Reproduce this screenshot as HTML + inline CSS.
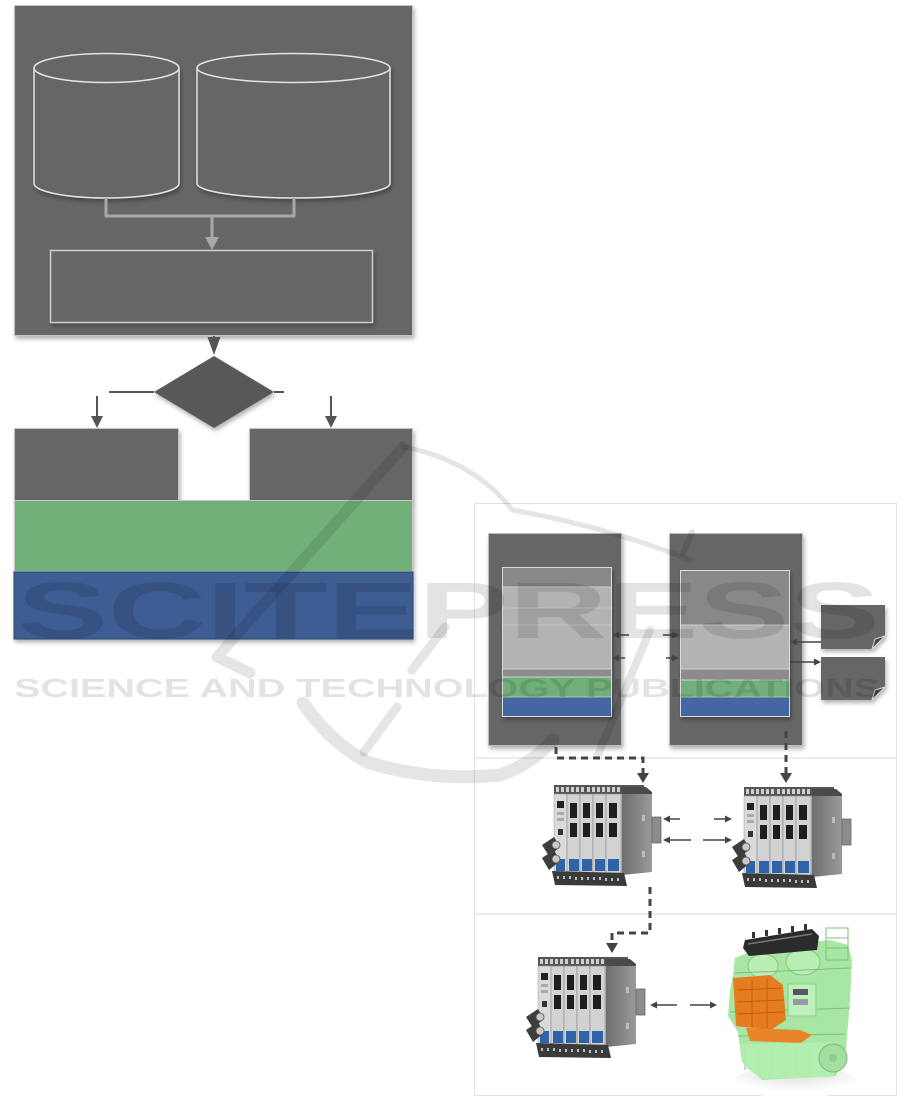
<!DOCTYPE html>
<html>
<head>
<meta charset="utf-8">
<style>
html,body{margin:0;padding:0;background:#fff;}
svg{display:block;}
</style>
</head>
<body>
<svg width="901" height="1097" viewBox="0 0 901 1097" xmlns="http://www.w3.org/2000/svg">
<defs>
<filter id="sh" x="-10%" y="-10%" width="130%" height="130%">
<feDropShadow dx="1.5" dy="3" stdDeviation="2" flood-color="#000" flood-opacity="0.3"/>
</filter>
<linearGradient id="sidep" x1="0" y1="0" x2="1" y2="0">
<stop offset="0" stop-color="#6e6e6e"/>
<stop offset="1" stop-color="#9a9a9a"/>
</linearGradient>
<radialGradient id="floor" cx="0.5" cy="0.2" r="0.6">
<stop offset="0" stop-color="#dcdcdc"/>
<stop offset="1" stop-color="#ffffff"/>
</radialGradient>
<g id="hw">
  <rect x="0" y="0" width="90" height="9" fill="#555"/>
  <g fill="#cfcfcf">
    <rect x="2" y="2" width="3" height="5"/><rect x="7" y="2" width="3" height="5"/><rect x="12" y="2" width="3" height="5"/>
    <rect x="17" y="2" width="3" height="5"/><rect x="22" y="2" width="3" height="5"/><rect x="27" y="2" width="3" height="5"/>
    <rect x="33" y="2" width="3" height="5"/><rect x="38" y="2" width="3" height="5"/><rect x="43" y="2" width="3" height="5"/>
    <rect x="48" y="2" width="3" height="5"/><rect x="53" y="2" width="3" height="5"/><rect x="58" y="2" width="3" height="5"/>
    <rect x="63" y="2" width="3" height="5"/>
  </g>
  <polygon points="68,2 92,2 98,7 98,10 68,10" fill="#4a4a4a"/>
  <polygon points="68,9 98,9 98,87 68,90" fill="url(#sidep)"/>
  <rect x="88" y="30" width="3" height="6" fill="#bbb"/>
  <rect x="88" y="66" width="3" height="6" fill="#bbb"/>
  <rect x="98" y="32" width="9" height="26" fill="#8c8c8c" stroke="#666" stroke-width="0.8"/>
  <rect x="0" y="9" width="68" height="79" fill="#b5b5b5"/>
  <rect x="0" y="9" width="13" height="78" fill="#dadada" stroke="#999" stroke-width="0.5"/>
  <rect x="3" y="16" width="7" height="7" fill="#222"/>
  <rect x="3" y="27" width="7" height="3" fill="#aaa"/>
  <rect x="3" y="33" width="7" height="3" fill="#aaa"/>
  <rect x="4" y="44" width="5" height="6" fill="#333"/>
  <rect x="2" y="74" width="9" height="12" fill="#2e63a8"/>
  <g>
    <rect x="13" y="9" width="13" height="79" fill="#d2d2d2" stroke="#8a8a8a" stroke-width="0.6"/>
    <rect x="16" y="18" width="7" height="15" fill="#1e1e1e"/>
    <rect x="16" y="38" width="7" height="14" fill="#1e1e1e"/>
    <rect x="15" y="74" width="10" height="12" fill="#2e63a8"/>
    <rect x="26" y="9" width="13" height="79" fill="#d2d2d2" stroke="#8a8a8a" stroke-width="0.6"/>
    <rect x="29" y="18" width="7" height="15" fill="#1e1e1e"/>
    <rect x="29" y="38" width="7" height="14" fill="#1e1e1e"/>
    <rect x="28" y="74" width="10" height="12" fill="#2e63a8"/>
    <rect x="39" y="9" width="13" height="79" fill="#d2d2d2" stroke="#8a8a8a" stroke-width="0.6"/>
    <rect x="42" y="18" width="7" height="15" fill="#1e1e1e"/>
    <rect x="42" y="38" width="7" height="14" fill="#1e1e1e"/>
    <rect x="41" y="74" width="10" height="12" fill="#2e63a8"/>
    <rect x="52" y="9" width="15" height="79" fill="#d2d2d2" stroke="#8a8a8a" stroke-width="0.6"/>
    <rect x="55" y="18" width="8" height="15" fill="#1e1e1e"/>
    <rect x="55" y="38" width="8" height="14" fill="#1e1e1e"/>
    <rect x="54" y="74" width="11" height="12" fill="#2e63a8"/>
  </g>
  <polygon points="-2,86 70,88 73,101 1,100" fill="#3a3a3a"/>
  <g fill="#bdbdbd">
    <rect x="3" y="91" width="2" height="3"/><rect x="9" y="91" width="2" height="3"/><rect x="15" y="91" width="2" height="3"/>
    <rect x="21" y="92" width="2" height="3"/><rect x="27" y="92" width="2" height="3"/><rect x="33" y="92" width="2" height="3"/>
    <rect x="39" y="92" width="2" height="3"/><rect x="45" y="92" width="2" height="3"/><rect x="51" y="93" width="2" height="3"/>
    <rect x="57" y="93" width="2" height="3"/><rect x="63" y="93" width="2" height="3"/>
  </g>
  <polygon points="-12,60 0,52 6,62 -5,71" fill="#3d3d3d"/>
  <polygon points="-12,73 0,65 6,76 -5,85" fill="#3d3d3d"/>
  <circle cx="2" cy="60" r="4" fill="#c8c8c8" stroke="#555" stroke-width="0.8"/>
  <circle cx="2" cy="74" r="4" fill="#c8c8c8" stroke="#555" stroke-width="0.8"/>
</g>
</defs>

<rect x="14.5" y="5.5" width="398" height="330" fill="#666" stroke="#c6c6c6" stroke-width="1" filter="url(#sh)"/>

<g filter="url(#sh)">
<path d="M34,68 L34,183.5 A72.5,14.5 0 0 0 179,183.5 L179,68 A72.5,14.5 0 0 0 34,68 Z" fill="#666" stroke="#e4e4e4" stroke-width="1.5"/>
</g>
<path d="M34,68 A72.5,14.5 0 0 0 179,68" fill="none" stroke="#e4e4e4" stroke-width="1.5"/>
<g filter="url(#sh)">
<path d="M197,68 L197,183.5 A96.5,14.5 0 0 0 390,183.5 L390,68 A96.5,14.5 0 0 0 197,68 Z" fill="#666" stroke="#e4e4e4" stroke-width="1.5"/>
</g>
<path d="M197,68 A96.5,14.5 0 0 0 390,68" fill="none" stroke="#e4e4e4" stroke-width="1.5"/>

<path d="M106,198 L106,216 L294,216 L294,198" fill="none" stroke="#a8a8a8" stroke-width="3"/>
<line x1="212" y1="216" x2="212" y2="238" stroke="#a8a8a8" stroke-width="3"/>
<polygon points="205,237 219,237 212,250" fill="#a8a8a8"/>

<rect x="50.5" y="250.5" width="322" height="72" fill="#666" stroke="#cfcfcf" stroke-width="1.5" filter="url(#sh)"/>

<line x1="214" y1="336" x2="214" y2="342" stroke="#555" stroke-width="2"/>
<polygon points="207.5,337 220.5,337 214,355" fill="#555"/>

<polygon points="154,392 214,356 274,392 214,428" fill="#595959" filter="url(#sh)"/>
<line x1="109" y1="392" x2="154" y2="392" stroke="#555" stroke-width="2"/>
<line x1="274" y1="392" x2="284" y2="392" stroke="#555" stroke-width="2"/>
<line x1="97" y1="396" x2="97" y2="418" stroke="#555" stroke-width="2"/>
<polygon points="91,416 103,416 97,428" fill="#555"/>
<line x1="331" y1="396" x2="331" y2="418" stroke="#555" stroke-width="2"/>
<polygon points="325,416 337,416 331,428" fill="#555"/>

<rect x="14.5" y="428.5" width="164" height="72" fill="#666" stroke="#c6c6c6" stroke-width="1" filter="url(#sh)"/>
<rect x="249.5" y="428.5" width="163" height="72" fill="#666" stroke="#c6c6c6" stroke-width="1" filter="url(#sh)"/>
<rect x="14.5" y="500.5" width="398" height="71" fill="#72b07a" stroke="#c6c6c6" stroke-width="1" filter="url(#sh)"/>
<rect x="14" y="572" width="399" height="67" fill="#3e5d93" stroke="#2c4673" stroke-width="1" filter="url(#sh)"/>

<rect x="474.5" y="503.5" width="422" height="592" fill="#fff" stroke="#e2e2e2" stroke-width="1"/>
<line x1="474.5" y1="758" x2="896.5" y2="758" stroke="#e2e2e2" stroke-width="1.2"/>
<line x1="474.5" y1="914" x2="896.5" y2="914" stroke="#e2e2e2" stroke-width="1.2"/>

<rect x="488.5" y="533.5" width="133" height="212" fill="#666" stroke="#bdbdbd" stroke-width="1" filter="url(#sh)"/>
<g filter="url(#sh)">
<rect x="502" y="567" width="110" height="150" fill="#b3b3b3"/>
</g>
<rect x="502" y="567" width="110" height="20" fill="#888"/>
<rect x="502" y="669" width="110" height="8" fill="#8c8c8c"/>
<rect x="502" y="677" width="110" height="20" fill="#72b07a"/>
<rect x="502" y="697" width="110" height="20" fill="#4467a2"/>
<line x1="502" y1="587" x2="612" y2="587" stroke="#d0d0d0" stroke-width="1"/>
<line x1="502" y1="608" x2="612" y2="608" stroke="#cdcdcd" stroke-width="0.8"/>
<line x1="502" y1="625" x2="612" y2="625" stroke="#cdcdcd" stroke-width="0.8"/>
<line x1="502" y1="669" x2="612" y2="669" stroke="#d0d0d0" stroke-width="1"/>
<line x1="502" y1="677" x2="612" y2="677" stroke="#d0d0d0" stroke-width="1"/>
<line x1="502" y1="697" x2="612" y2="697" stroke="#d0d0d0" stroke-width="0.8"/>
<rect x="502.5" y="567.5" width="109" height="149" fill="none" stroke="#dcdcdc" stroke-width="1"/>

<rect x="669.5" y="533.5" width="133" height="212" fill="#666" stroke="#bdbdbd" stroke-width="1" filter="url(#sh)"/>
<g filter="url(#sh)">
<rect x="680" y="570" width="110" height="147" fill="#b3b3b3"/>
</g>
<rect x="680" y="570" width="110" height="55" fill="#888"/>
<rect x="680" y="669" width="110" height="11" fill="#8c8c8c"/>
<rect x="680" y="680" width="110" height="17" fill="#72b07a"/>
<rect x="680" y="697" width="110" height="20" fill="#4467a2"/>
<line x1="680" y1="625" x2="790" y2="625" stroke="#d0d0d0" stroke-width="1"/>
<line x1="680" y1="669" x2="790" y2="669" stroke="#d0d0d0" stroke-width="1"/>
<line x1="680" y1="680" x2="790" y2="680" stroke="#d0d0d0" stroke-width="1"/>
<line x1="680" y1="697" x2="790" y2="697" stroke="#d0d0d0" stroke-width="0.8"/>
<rect x="680.5" y="570.5" width="109" height="146" fill="none" stroke="#dcdcdc" stroke-width="1"/>

<g filter="url(#sh)">
<polygon points="821,605 885,605 885,636 872,649 821,649" fill="#666"/>
<polygon points="821,657 885,657 885,687 872,700 821,700" fill="#666"/>
</g>
<polygon points="872,649 885,636 875,639" fill="#444" stroke="#d8d8d8" stroke-width="1"/>
<polygon points="872,700 885,687 875,690" fill="#444" stroke="#d8d8d8" stroke-width="1"/>

<g stroke="#444" stroke-width="1.5" fill="#444">
  <line x1="617" y1="635" x2="629" y2="635"/><polygon points="612,635 619,631.5 619,638.5" stroke="none"/>
  <line x1="663" y1="635" x2="674" y2="635"/><polygon points="679,635 672,631.5 672,638.5" stroke="none"/>
  <line x1="617" y1="658" x2="625" y2="658"/><polygon points="612,658 619,654.5 619,661.5" stroke="none"/>
  <line x1="666" y1="658" x2="674" y2="658"/><polygon points="679,658 672,654.5 672,661.5" stroke="none"/>
  <line x1="795" y1="642" x2="821" y2="642"/><polygon points="790,642 797,638.5 797,645.5" stroke="none"/>
  <line x1="790" y1="662" x2="816" y2="662"/><polygon points="821,662 814,658.5 814,665.5" stroke="none"/>

  <line x1="668" y1="819" x2="680" y2="819"/><polygon points="663,819 670,815.5 670,822.5" stroke="none"/>
  <line x1="714" y1="819" x2="727" y2="819"/><polygon points="732,819 725,815.5 725,822.5" stroke="none"/>
  <line x1="668" y1="840" x2="691" y2="840"/><polygon points="663,840 670,836.5 670,843.5" stroke="none"/>
  <line x1="703" y1="840" x2="727" y2="840"/><polygon points="732,840 725,836.5 725,843.5" stroke="none"/>
  <line x1="655" y1="1005" x2="677" y2="1005"/><polygon points="650,1005 657,1001.5 657,1008.5" stroke="none"/>
  <line x1="690" y1="1005" x2="712" y2="1005"/><polygon points="717,1005 710,1001.5 710,1008.5" stroke="none"/>
</g>

<g fill="none" stroke="#444" stroke-width="3" stroke-dasharray="7,5">
  <path d="M556,747 L556,758 L643,758 L643,774"/>
  <path d="M786,731 L786,774"/>
  <path d="M650,887 L650,933 L612,933 L612,944"/>
</g>
<g fill="#444">
  <polygon points="637,773 649,773 643,783"/>
  <polygon points="780,773 792,773 786,783"/>
  <polygon points="606,943 618,943 612,953"/>
</g>

<use href="#hw" transform="translate(554,785)"/>
<use href="#hw" transform="translate(744,787)"/>
<use href="#hw" transform="translate(538,957)"/>

<g>
  <ellipse cx="795" cy="1082" rx="62" ry="16" fill="url(#floor)"/>
  <polygon points="735,958 760,948 830,940 848,945 852,960 850,1000 846,1050 836,1076 762,1080 742,1062 738,1032 728,1016 730,990 733,975" fill="#a7e6a3"/>
  <ellipse cx="763" cy="966" rx="15" ry="12" fill="#b9efb5" stroke="#86c784" stroke-width="1"/>
  <ellipse cx="803" cy="962" rx="17" ry="13" fill="#b9efb5" stroke="#86c784" stroke-width="1"/>
  <polygon points="745,940 812,929 819,936 817,950 749,956 743,948" fill="#2b2b2b"/>
  <line x1="748" y1="944" x2="812" y2="934" stroke="#777" stroke-width="1.5"/>
  <g fill="#333">
    <rect x="752" y="932" width="3" height="6"/><rect x="765" y="930" width="3" height="6"/><rect x="778" y="928" width="3" height="6"/>
    <rect x="791" y="926" width="3" height="6"/><rect x="804" y="924" width="3" height="6"/>
  </g>
  <g stroke="#7fbf7d" stroke-width="1" fill="none">
    <rect x="826" y="928" width="22" height="32"/>
    <line x1="826" y1="938" x2="848" y2="938"/>
    <line x1="826" y1="948" x2="848" y2="948"/>
    <line x1="735" y1="973" x2="850" y2="968"/>
    <line x1="730" y1="1012" x2="850" y2="1008"/>
    <line x1="738" y1="1036" x2="845" y2="1034"/>
    <line x1="745" y1="1045" x2="745" y2="1070"/>
    <line x1="758" y1="1045" x2="758" y2="1074"/>
    <line x1="771" y1="1045" x2="771" y2="1076"/>
    <line x1="784" y1="1045" x2="784" y2="1076"/>
    <line x1="797" y1="1045" x2="797" y2="1076"/>
    <line x1="810" y1="1045" x2="810" y2="1076"/>
  </g>
  <polygon points="733,978 770,975 783,985 786,1020 771,1030 736,1026" fill="#e57c1f"/>
  <g stroke="#c25f0e" stroke-width="1" fill="none">
    <line x1="737" y1="990" x2="782" y2="988"/>
    <line x1="737" y1="1002" x2="784" y2="1000"/>
    <line x1="737" y1="1014" x2="784" y2="1012"/>
    <line x1="752" y1="980" x2="752" y2="1027"/>
    <line x1="767" y1="978" x2="767" y2="1028"/>
  </g>
  <polygon points="746,1028 800,1030 812,1035 801,1043 750,1041" fill="#e8852a"/>
  <rect x="788" y="984" width="28" height="32" fill="#bdf0ba" stroke="#8ccc8a" stroke-width="1"/>
  <rect x="793" y="989" width="15" height="6" fill="#556"/>
  <rect x="793" y="999" width="15" height="6" fill="#99a"/>
  <polygon points="740,1044 836,1042 841,1060 833,1077 762,1079 744,1066" fill="#b4efb0" opacity="0.9"/>
  <circle cx="833" cy="1058" r="14" fill="#a3dfa1" stroke="#7cb97a" stroke-width="1"/>
  <circle cx="833" cy="1058" r="4" fill="#8fcf8d"/>
</g>

<g fill="#000" fill-opacity="0.11">
  <text x="17" y="638" font-family="Liberation Sans, sans-serif" font-weight="bold" font-size="80" textLength="863" lengthAdjust="spacingAndGlyphs">SCITEPRESS</text>
  <text x="14" y="697" font-family="Liberation Sans, sans-serif" font-weight="bold" font-size="26" textLength="866" lengthAdjust="spacingAndGlyphs">SCIENCE AND TECHNOLOGY PUBLICATIONS</text>
</g>
<g fill="none" stroke="#000" stroke-opacity="0.1" stroke-linecap="round" stroke-linejoin="round">
  <path d="M403,447 C450,455 490,480 512,510 C580,522 640,540 690,560" stroke-width="5"/>
  <path d="M403,447 L217,657 L250,673" stroke-width="11"/>
  <path d="M445,627 L412,670" stroke-width="9"/>
  <path d="M303,703 Q330,742 367,762 Q430,782 500,775 Q530,765 553,740" stroke-width="13"/>
  <path d="M397,707 L364,752" stroke-width="9"/>
  <path d="M650,630 L598,755" stroke-width="8"/>
  <path d="M683,553 L692,532" stroke-width="6"/>
</g>
</svg>
</body>
</html>
